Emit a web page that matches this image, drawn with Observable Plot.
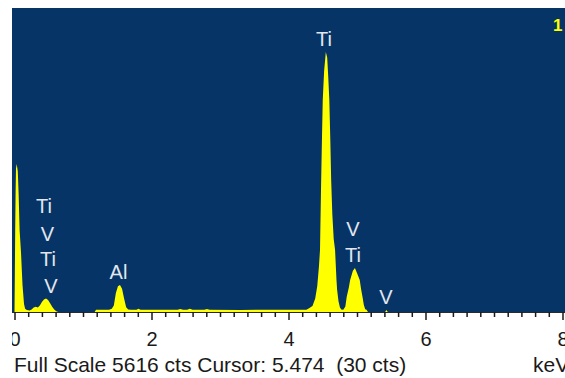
<!DOCTYPE html>
<html>
<head>
<meta charset="utf-8">
<script src="https://cdn.jsdelivr.net/npm/d3@7"></script>
<script src="https://cdn.jsdelivr.net/npm/@observablehq/plot@0.6"></script>
<style>
  html, body { margin: 0; padding: 0; background: #ffffff; overflow: hidden; width: 565px; height: 378px; }
  #chart { margin-left: 12px; width: 553px; height: 350px; }
  #chart svg { overflow: hidden; display: block; }
  #caption { position: relative; width: 565px; height: 28px; font-family: "Liberation Sans", Arial, sans-serif; font-size: 21px; line-height: 29px; color: #1a1a1a; white-space: pre; overflow: hidden; }
  #caption span { position: absolute; top: 0; }
</style>
</head>
<body>
<div id="chart"></div>
<div id="caption"><span id="cap-left" style="left:14px"></span><span id="cap-right" style="left:533px"></span></div>
<script>
// Spectrum outline (energy in keV, counts)
const specKeV = [
  0.000, 0.005, 0.010, 0.016, 0.022, 0.032, 0.048, 0.060, 0.075, 0.095, 0.117, 0.139, 0.155,
  0.18, 0.22, 0.25, 0.28, 0.31, 0.34, 0.37, 0.40, 0.43, 0.46, 0.49, 0.52, 0.55, 0.58, 0.61, 0.64,
  1.17, 1.19, 1.38, 1.42, 1.45, 1.48, 1.51, 1.54, 1.57, 1.60, 1.63, 1.66, 1.70,
  1.78, 1.81, 1.84, 2.38, 2.42, 2.46, 2.52, 2.56, 2.60, 2.77, 2.81, 2.85, 3.30, 3.80,
  4.26, 4.30, 4.35, 4.39, 4.42, 4.445, 4.46, 4.475, 4.49, 4.50, 4.52, 4.545, 4.565, 4.58, 4.596,
  4.61, 4.623, 4.64, 4.66, 4.68, 4.70, 4.71, 4.73, 4.75, 4.77, 4.80,
  4.83, 4.85, 4.88, 4.90, 4.94, 4.97, 5.00, 5.04, 5.06, 5.08, 5.10, 5.12, 5.14, 5.16,
  5.41, 5.43, 5.45, 8.04
];
const specCts = [
  0, 700, 1500, 2200, 2650, 2733, 2600, 2200, 1500, 1100, 500, 150, 60,
  35, 30, 45, 85, 95, 85, 120, 185, 230, 250, 220, 160, 95, 45, 15, 0,
  0, 40, 40, 60, 120, 350, 475, 499, 430, 250, 90, 45, 40,
  40, 60, 40, 40, 55, 40, 40, 60, 40, 40, 55, 40, 38, 42,
  40, 70, 110, 250, 480, 850, 1150, 2300, 3300, 3916, 4450, 4802, 4700, 4350, 3916,
  3200, 2438, 1800, 1350, 1145, 600, 406, 200, 90, 45, 40,
  100, 283, 450, 591, 760, 813, 720, 591, 420, 283, 130, 50, 40, 0,
  0, 35, 0, 0
];

// Element labels
const labelText = ["Ti", "Ti", "V", "Ti", "V", "Al", "V", "Ti", "V"];
const labelKeV  = [4.511, 0.423, 0.474, 0.482, 0.526, 1.511, 4.934, 4.934, 5.416];
const labelCts  = [4932, 1829, 1330, 868, 369, 628, 1422, 924, 166];

// Axis ticks
const majorTicks = [0, 2, 4, 6, 8];
const minorTicks = [0.2, 0.4, 0.6, 0.8, 1, 1.2, 1.4, 1.6, 1.8,
  2.2, 2.4, 2.6, 2.8, 3, 3.2, 3.4, 3.6, 3.8,
  4.2, 4.4, 4.6, 4.8, 5, 5.2, 5.4, 5.6, 5.8,
  6.2, 6.4, 6.6, 6.8, 7, 7.2, 7.4, 7.6, 7.8];

const fullScale = 5616;
const captionLeft = "Full Scale 5616 cts Cursor: 5.474  (30 cts)";
const captionRight = "keV";
const cornerLabel = ["1"];

const spectrum = specKeV.map((k, i) => ({keV: k, cts: specCts[i]}));
const labels = labelText.map((t, i) => ({label: t, keV: labelKeV[i], cts: labelCts[i]}));

const panelBlue = "#063466";

const chart = Plot.plot({
  width: 553,
  height: 350,
  marginLeft: 0,
  marginRight: 0,
  marginTop: 8,
  marginBottom: 38,
  style: {fontFamily: "'Liberation Sans', Arial, sans-serif", background: "#ffffff", overflow: "hidden"},
  x: {domain: [-0.0365, 8.0365], label: null},
  y: {domain: [0, fullScale], axis: null, label: null},
  marks: [
    Plot.frame({fill: panelBlue, stroke: panelBlue}),
    Plot.areaY(spectrum, {x: "keV", y: "cts", fill: "#ffff00"}),
    Plot.ruleY([0], {stroke: "#2a2a2a", strokeWidth: 1}),
    Plot.axisX({ticks: minorTicks, tickSize: 5, tickFormat: () => "", label: null, color: "#1a1a1a", strokeWidth: 1.5}),
    Plot.axisX({ticks: majorTicks, tickSize: 8, tickPadding: 11, fontSize: 20, tickFormat: d => String(d), label: null, color: "#1a1a1a", strokeWidth: 1.5}),
    Plot.text(labels, {x: "keV", y: "cts", text: "label", fill: "#e2e6ee", fontSize: 20, textAnchor: "middle", lineAnchor: "bottom"}),
    Plot.text(cornerLabel, {frameAnchor: "top-right", text: d => d, dx: -3, dy: 10, lineAnchor: "top", fill: "#ffff00", fontSize: 17, fontWeight: "bold"})
  ]
});
document.getElementById("chart").appendChild(chart);
document.getElementById("cap-left").textContent = captionLeft;
document.getElementById("cap-right").textContent = captionRight;
</script>
</body>
</html>
